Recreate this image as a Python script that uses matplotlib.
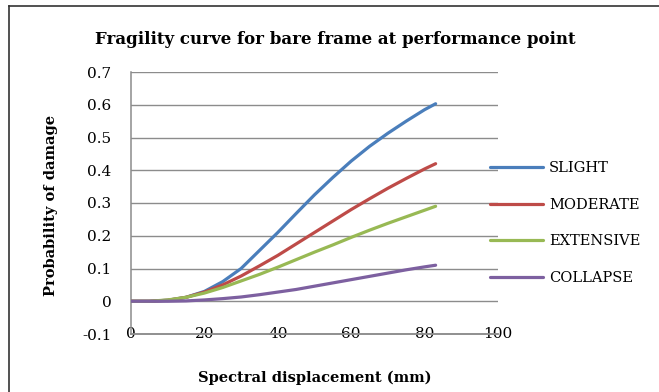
import matplotlib
matplotlib.use('Agg')
from matplotlib import pyplot as plt
from matplotlib.lines import Line2D

# spectral displacement (mm)
sd = [0, 5, 10, 15, 20, 25, 30, 35, 40, 45, 50, 55, 60, 65, 70, 75, 80, 83]

slight = [0, 0.0, 0.003, 0.012, 0.03, 0.06, 0.10, 0.155, 0.21, 0.268, 0.325, 0.378, 0.428, 0.473, 0.513, 0.55, 0.585, 0.603]
moderate = [0, 0.0, 0.003, 0.012, 0.028, 0.05, 0.077, 0.108, 0.14, 0.175, 0.21, 0.245, 0.28, 0.313, 0.345, 0.375, 0.404, 0.42]
extensive = [0, 0.0, 0.004, 0.012, 0.025, 0.042, 0.062, 0.082, 0.104, 0.127, 0.15, 0.172, 0.195, 0.217, 0.238, 0.258, 0.278, 0.29]
collapse = [0, 0.0, 0.0, 0.001, 0.004, 0.008, 0.013, 0.02, 0.028, 0.036, 0.046, 0.056, 0.066, 0.076, 0.086, 0.096, 0.105, 0.11]

labels = ['SLIGHT', 'MODERATE', 'EXTENSIVE', 'COLLAPSE']
colors = ['#4A7EBB', '#BE4B48', '#98B954', '#7D60A0']

xticks = [0, 20, 40, 60, 80, 100]
yticks = [-0.1, 0, 0.1, 0.2, 0.3, 0.4, 0.5, 0.6, 0.7]

serif = 'DejaVu Serif'
grid_c = '#8c8c8c'

fig = plt.figure(figsize=(6.59, 3.92), dpi=100)
ax = fig.add_axes([131/659, 1 - 334/392, (498 - 131)/659, (334 - 72)/392])

# gridlines
for y in yticks[1:]:
    ax.axhline(y, color=grid_c, lw=1, zorder=1)

for ys, lab, c in zip([slight, moderate, extensive, collapse], labels, colors):
    ax.plot(sd, ys, color=c, lw=2.3, label=lab, zorder=3, solid_capstyle='round')

ax.set_xlim(0, 100)
ax.set_ylim(-0.1, 0.7)
ax.set_xticks(xticks)
ax.set_yticks(yticks)
ax.set_yticklabels(['-0.1', '0', '0.1', '0.2', '0.3', '0.4', '0.5', '0.6', '0.7'])

for s in ['top', 'right']:
    ax.spines[s].set_visible(False)
for s in ['left', 'bottom']:
    ax.spines[s].set_color(grid_c)
    ax.spines[s].set_linewidth(1.1)
    ax.spines[s].set_zorder(2)

ax.tick_params(axis='x', length=0, pad=0, labelsize=11)
ax.tick_params(axis='y', length=0, pad=14, labelsize=11)
for t in ax.get_xticklabels():
    t.set_verticalalignment('center')
    t.set_fontfamily(serif)
for t in ax.get_yticklabels():
    t.set_fontfamily(serif)

# category axis line running through the x tick labels
fig.add_artist(Line2D([131/659, 498/659], [1 - 334/392, 1 - 334/392], color=grid_c,
                      lw=1.1, transform=fig.transFigure, zorder=5))

fig.text(335/659, 1 - 40/392, 'Fragility curve for bare frame at performance point',
         ha='center', va='center', fontsize=12, fontweight='bold', family=serif)
fig.text(51/659, 1 - 205/392, 'Probability of damage', rotation=90,
         ha='center', va='center', fontsize=10.5, fontweight='bold', family=serif)
fig.text(315/659, 1 - 378/392, 'Spectral displacement (mm)',
         ha='center', va='center', fontsize=10.5, fontweight='bold', family=serif)

leg = ax.legend(loc='center left', bbox_to_anchor=(477/659, 1 - 223/392),
                bbox_transform=fig.transFigure, frameon=False,
                handlelength=3.6, handletextpad=0.45, labelspacing=1.55,
                prop={'family': serif, 'size': 10.5})

# chart border (left and top edges visible)
fig.add_artist(Line2D([9/659, 9/659], [0, 1 - 6/392], color='#333333', lw=1.2,
                      transform=fig.transFigure))
fig.add_artist(Line2D([9/659, 1], [1 - 6/392, 1 - 6/392], color='#333333', lw=1.2,
                      transform=fig.transFigure))

plt.savefig('out.png', dpi=100)
plt.close()
